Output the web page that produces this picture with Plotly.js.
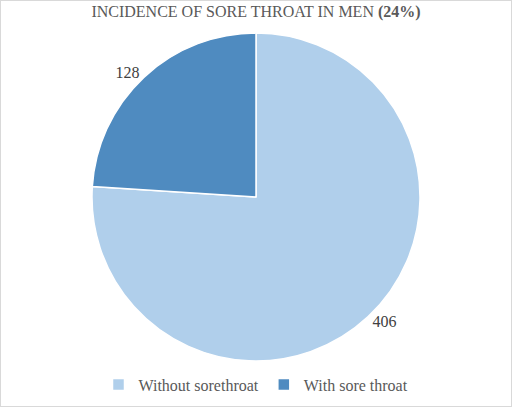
<!DOCTYPE html>
<html>
<head>
<meta charset="utf-8">
<script src="https://cdn.plot.ly/plotly-3.0.1.min.js"></script>
<style>
  html, body { margin: 0; padding: 0; background: #fff; }
  #wrap { position: relative; width: 512px; height: 407px; }
  #chart { width: 512px; height: 407px; }
  #frame { position: absolute; left: 0; top: 0; width: 510px; height: 405px;
           border: 1px solid #d9d9d9; pointer-events: none; }
</style>
</head>
<body>
<div id="wrap">
  <div id="chart"></div>
  <div id="frame"></div>
</div>
<script>
// Sore throat incidence in men
const categories = ['Without sorethroat', 'With sore throat'];
const counts = [406, 128];
const sliceColors = ['#b0cfeb', '#4f8bc0'];

const serif = '"Liberation Serif", "Times New Roman", serif';

const trace = {
  type: 'pie',
  labels: categories,
  values: counts,
  sort: false,
  direction: 'clockwise',
  rotation: 0,
  marker: { colors: sliceColors, line: { color: '#ffffff', width: 1.5 } },
  textinfo: 'value',
  textposition: 'outside',
  outsidetextfont: { family: serif, size: 16, color: '#404040' },
  hoverinfo: 'none',
  automargin: false
};

const layout = {
  width: 512,
  height: 407,
  margin: { l: 0, r: 0, t: 33, b: 46 },
  paper_bgcolor: '#ffffff',
  title: {
    text: 'INCIDENCE OF SORE THROAT IN MEN <b>(24%)</b>',
    font: { family: serif, size: 16, color: '#595959' },
    x: 0.5, xanchor: 'center',
    y: 0.971, yref: 'container', yanchor: 'middle'
  },
  showlegend: true,
  legend: {
    orientation: 'h',
    x: 0.5, xanchor: 'center',
    y: -0.072, yanchor: 'middle',
    font: { family: serif, size: 16, color: '#595959' },
    itemwidth: 30,
    traceorder: 'normal'
  }
};

Plotly.newPlot('chart', [trace], layout, { displayModeBar: false, staticPlot: true });
</script>
</body>
</html>
